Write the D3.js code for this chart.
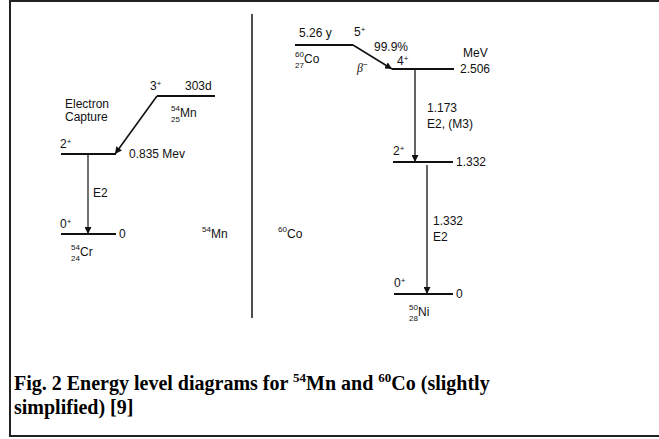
<!DOCTYPE html>
<html>
<head>
<meta charset="utf-8">
<script src="https://cdn.jsdelivr.net/npm/d3@7/dist/d3.min.js"></script>
<style>
  html, body { margin: 0; padding: 0; background: #fff; }
  svg { display: block; }
  .lbl { font-family: "Liberation Sans", Arial, sans-serif; font-size: 12px; fill: #111; }
  .small { font-family: "Liberation Sans", Arial, sans-serif; font-size: 8px; fill: #111; }
  .cap { font-family: "Liberation Serif", "Times New Roman", serif; font-size: 20px; font-weight: bold; fill: #000; }
</style>
</head>
<body>
<svg id="chart" width="659" height="439"></svg>
<script>
// --- 54Mn decay (electron capture to 54Cr) ---
const mnEnergies = [0.835, 0];          // MeV, daughter levels
const mnSpins = ["2+", "0+"];
const mnEnergyLabels = ["0.835 Mev", "0"];
const mnParent = { spin: "3+", halfLife: "303d", A: "54", Z: "25", el: "Mn" };
const mnDaughter = { A: "54", Z: "24", el: "Cr" };
const mnGamma = ["E2"];

// --- 60Co decay (beta minus to 60Ni) ---
const coEnergies = [2.506, 1.332, 0];   // MeV, daughter levels
const coSpins = ["4+", "2+", "0+"];
const coEnergyLabels = ["2.506", "1.332", "0"];
const coParent = { spin: "5+", halfLife: "5.26 y", A: "60", Z: "27", el: "Co", branch: "99.9%" };
const coDaughter = { A: "50", Z: "28", el: "Ni" };
const coGammas = [["1.173", "E2, (M3)"], ["1.332", "E2"]];

const svg = d3.select("#chart");

// Schematic (piecewise) vertical scales for each scheme
const yMn = d3.scaleLinear().domain([0, 0.835, 1.3]).range([234, 154, 96]);
const yCo = d3.scaleLinear().domain([0, 1.332, 2.506, 2.9]).range([294, 162, 69, 45]);

// arrowhead
svg.append("defs").append("marker")
  .attr("id", "ah").attr("viewBox", "0 0 10 10")
  .attr("refX", 10).attr("refY", 5)
  .attr("markerWidth", 7).attr("markerHeight", 7)
  .attr("markerUnits", "userSpaceOnUse")
  .attr("orient", "auto")
  .append("path").attr("d", "M0,0 L10,5 L0,10 z").attr("fill", "#111");

// outer frame
svg.append("rect")
  .attr("x", 10).attr("y", 1).attr("width", 700).attr("height", 435)
  .attr("fill", "none").attr("stroke", "#222").attr("stroke-width", 2);

// divider
svg.append("line").attr("x1", 252).attr("x2", 252).attr("y1", 14).attr("y2", 318)
  .attr("stroke", "#222").attr("stroke-width", 1.6);

function level(x1, x2, y, w) {
  svg.append("line").attr("x1", x1).attr("x2", x2).attr("y1", y).attr("y2", y)
    .attr("stroke", "#111").attr("stroke-width", w || 2.2);
}
function arrow(x1, y1, x2, y2, w) {
  svg.append("line").attr("x1", x1).attr("y1", y1).attr("x2", x2).attr("y2", y2)
    .attr("stroke", "#111").attr("stroke-width", w || 1.3).attr("marker-end", "url(#ah)");
}
function text(x, y, s, cls) {
  return svg.append("text").attr("class", cls || "lbl").attr("x", x).attr("y", y).text(s);
}
// spin label like 2+ with raised sign
function spin(x, y, s) {
  const t = svg.append("text").attr("class", "lbl").attr("x", x).attr("y", y);
  t.append("tspan").text(s.slice(0, -1));
  t.append("tspan").attr("class", "small").attr("dy", -4).text(s.slice(-1));
}
// nuclide with stacked mass / atomic numbers
function nuclide(x, y, n, el) {
  text(x, y - 6, n.A, "small");
  text(x, y + 5, n.Z, "small");
  text(x + 9, y, n.el);
}
function massLabel(x, y, A, el) {
  text(x, y - 6, A, "small");
  text(x + 9, y, el);
}

// ---------- 54Mn ----------
const mnTop = yMn(1.3);
level(157, 215, mnTop);
spin(150, mnTop - 6, mnParent.spin);
text(185, mnTop - 6, mnParent.halfLife);
nuclide(171, mnTop + 21, mnParent, mnParent.el);
arrow(157, mnTop, 115, yMn(mnEnergies[0]), 1.6);
text(65, 108, "Electron");
text(65, 121, "Capture");

mnEnergies.forEach((e, i) => {
  level(61, 116, yMn(e));
  spin(60, yMn(e) - 6, mnSpins[i]);
  text(i === 0 ? 129 : 119, yMn(e) + 4, mnEnergyLabels[i]);
});
arrow(88, yMn(mnEnergies[0]), 88, yMn(mnEnergies[1]), 1.2);
text(93, 197, mnGamma[0]);
nuclide(71, 256, mnDaughter, mnDaughter.el);
massLabel(202, 238, "54", "Mn");
massLabel(278, 238, "60", "Co");

// ---------- 60Co ----------
const coTop = yCo(2.9);
level(295, 353, coTop);
text(299, coTop - 8, coParent.halfLife);
spin(354, coTop - 9, coParent.spin);
nuclide(295, coTop + 18, coParent, coParent.el);
arrow(353, coTop, 392, yCo(coEnergies[0]), 1.6);
text(374, 51, coParent.branch);
const beta = svg.append("text").attr("class", "lbl").attr("x", 357).attr("y", 72)
  .style("font-family", "'Liberation Serif', serif").style("font-style", "italic");
beta.append("tspan").text("β");
beta.append("tspan").attr("class", "small").attr("dy", -5).text("−");
text(463, 57, "MeV");

const coX = [[392, 454], [393, 453], [394, 453]];
coEnergies.forEach((e, i) => {
  level(coX[i][0], coX[i][1], yCo(e));
  spin(i === 0 ? 397 : coX[i][0], yCo(e) - (i === 0 ? 4 : 7), coSpins[i]);
  text(i === 0 ? 460 : 456, yCo(e) + 4, coEnergyLabels[i]);
});
arrow(415, yCo(coEnergies[0]), 415, yCo(coEnergies[1]), 1.3);
arrow(427, yCo(coEnergies[1]) + 3, 427, yCo(coEnergies[2]), 1.3);
text(427, 112, coGammas[0][0]);
text(427, 128, coGammas[0][1]);
text(433, 225, coGammas[1][0]);
text(433, 241, coGammas[1][1]);
nuclide(409, 316, coDaughter, coDaughter.el);

// ---------- caption ----------
const c1 = svg.append("text").attr("class", "cap").attr("x", 14).attr("y", 390);
c1.append("tspan").text("Fig. 2 Energy level diagrams for ");
c1.append("tspan").attr("font-size", 13).attr("dy", -8).text("54");
c1.append("tspan").attr("dy", 8).text("Mn and ");
c1.append("tspan").attr("font-size", 13).attr("dy", -8).text("60");
c1.append("tspan").attr("dy", 8).text("Co (slightly");
svg.append("text").attr("class", "cap").attr("x", 14).attr("y", 414).text("simplified) [9]");
</script>
</body>
</html>
